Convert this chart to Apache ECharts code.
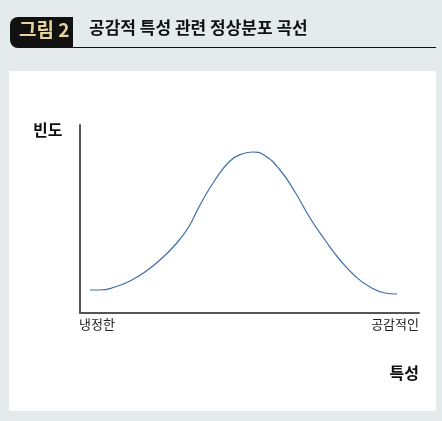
<!DOCTYPE html><html><head><meta charset="utf-8"><script src="https://cdn.jsdelivr.net/npm/echarts@6/dist/echarts.min.js"></script>
<style>html,body{margin:0;padding:0;background:#e5eaed}#c{width:442px;height:421px}</style></head><body><div id="c"></div><script>
const xs=[10,20,35,50,65,80,95,108,120,135,150,162,173,184,200,215,230,245,260,275,290,305,317];
const ys=[23,23,26,32,41,53,68,85,108,133,152,159,161,158,143,121,95,73,53,37,26,20,19];
const xLabels=['냉정한','공감적인'];
const F='"Noto Sans CJK KR"';
const ch=echarts.init(document.getElementById('c'));
ch.setOption({backgroundColor:'#e5eaed',animation:false,
graphic:[
{type:'rect',z:-10,shape:{x:9,y:71,width:427,height:340},style:{fill:'#fff'}},
{type:'rect',shape:{x:10,y:17,width:63,height:31,r:[8,0,0,8]},style:{fill:'#111'}},
{type:'text',left:19,top:20,style:{text:'그림 2',fill:'#e8d2a0',font:'bold 19px '+F}},
{type:'text',left:89,top:19,style:{text:'공감적 특성 관련 정상분포 곡선',fill:'#111',font:'bold 17px '+F}},
{type:'line',shape:{x1:73,y1:47.5,x2:436,y2:47.5},style:{stroke:'#111',lineWidth:1}},
{type:'text',left:33,top:122,style:{text:'빈도',fill:'#111',font:'bold 16px '+F}},
{type:'text',left:79,top:318,style:{text:xLabels[0],fill:'#222',font:'13px '+F}},
{type:'text',right:23,top:318,style:{text:xLabels[1],fill:'#222',font:'13px '+F}},
{type:'text',right:23,top:365,style:{text:'특성',fill:'#111',font:'bold 16px '+F}}
],
grid:{left:80,top:125,width:339,height:188},
xAxis:{type:'value',min:0,max:339,axisLine:{lineStyle:{color:'#555',width:2}},axisTick:{show:false},axisLabel:{show:false},splitLine:{show:false}},
yAxis:{type:'value',min:0,max:188,axisLine:{show:true,lineStyle:{color:'#555',width:2}},axisTick:{show:false},axisLabel:{show:false},splitLine:{show:false}},
series:[{type:'line',smooth:0.5,showSymbol:false,data:xs.map((x,i)=>[x,ys[i]]),lineStyle:{color:'#3d6fa8',width:1.2}}]
});
</script></body></html>
